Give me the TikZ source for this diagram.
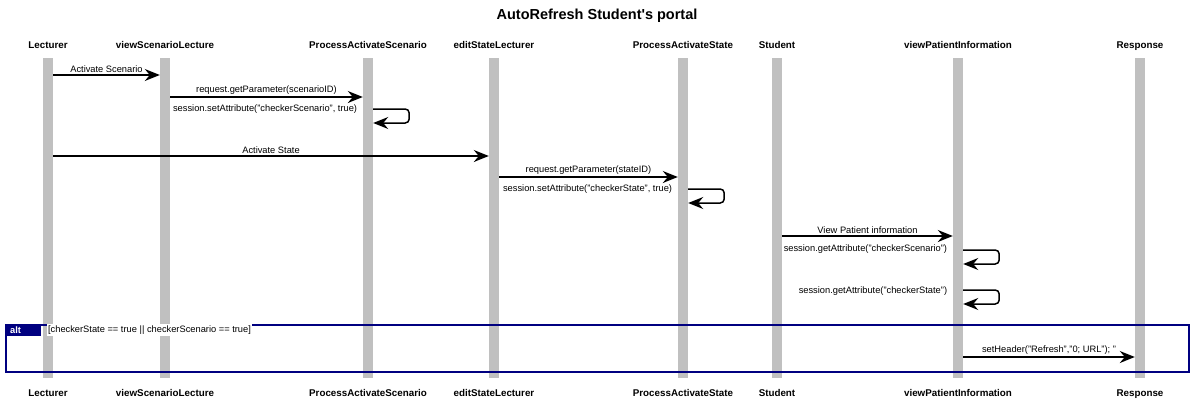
\documentclass[tikz,border=0pt]{standalone}
\usepackage{fontspec}
\setmainfont{Liberation Sans}
\usepackage{xcolor}
\usetikzlibrary{arrows.meta}

\definecolor{lifegray}{HTML}{C0C0C0}
\definecolor{altblue}{HTML}{000080}

\begin{document}
\begin{tikzpicture}[x=1pt, y=-1pt,
    lifeline/.style = {fill=lifegray, minimum width=10pt,
      minimum height=320pt, inner sep=0pt},
    actor/.style = {anchor=base, inner sep=0pt,
      font=\fontsize{9.8}{11}\selectfont\bfseries},
    msg/.style = {line width=1.5pt,
      -{Stealth[length=15pt, width=12pt, inset=5pt]}},
    selfmsg/.style = {msg, rounded corners=4pt},
    lbl/.style = {inner sep=1.5pt, font=\fontsize{9.3}{11}\selectfont},
    altframe/.style = {draw=altblue, line width=2pt, inner sep=0pt},
    alttab/.style = {fill=altblue, text=white, inner xsep=5pt, inner ysep=0pt,
      text width=26pt, minimum height=12pt, font=\fontsize{9.3}{11}\selectfont\bfseries}]
    \useasboundingbox (0,0) rectangle (1194,407);

    \node[anchor=base, font=\fontsize{14.5}{17}\selectfont\bfseries] (title)
      at (597,19) {AutoRefresh Student\textquotesingle s portal};

    % lifelines
    \node[lifeline] (lec) at (48,218) {};
    \node[lifeline] (vsl) at (165,218) {};
    \node[lifeline] (pas) at (368,218) {};
    \node[lifeline] (esl) at (494,218) {};
    \node[lifeline] (pst) at (683,218) {};
    \node[lifeline] (stu) at (777,218) {};
    \node[lifeline] (vpi) at (958,218) {};
    \node[lifeline] (res) at (1140,218) {};

    \node[actor] (lecTop) at (48,48) {Lecturer};
    \node[actor] (vslTop) at (165,48) {viewScenarioLecture};
    \node[actor] (pasTop) at (368,48) {ProcessActivateScenario};
    \node[actor] (eslTop) at (494,48) {editStateLecturer};
    \node[actor] (pstTop) at (683,48) {ProcessActivateState};
    \node[actor] (stuTop) at (777,48) {Student};
    \node[actor] (vpiTop) at (958,48) {viewPatientInformation};
    \node[actor] (resTop) at (1140,48) {Response};

    \node[actor] (lecBot) at (48,396) {Lecturer};
    \node[actor] (vslBot) at (165,396) {viewScenarioLecture};
    \node[actor] (pasBot) at (368,396) {ProcessActivateScenario};
    \node[actor] (eslBot) at (494,396) {editStateLecturer};
    \node[actor] (pstBot) at (683,396) {ProcessActivateState};
    \node[actor] (stuBot) at (777,396) {Student};
    \node[actor] (vpiBot) at (958,396) {viewPatientInformation};
    \node[actor] (resBot) at (1140,396) {Response};

    % messages
    \draw[msg] (lec.east |- 0,75) -- node[lbl, above] {Activate Scenario} (vsl.west |- 0,75);
    \draw[msg] (vsl.east |- 0,97) -- node[lbl, above] {request.getParameter(scenarioID)} (pas.west |- 0,97);
    \draw[selfmsg] (pas.east |- 0,109) -- ++(36,0) -- ++(0,14) -- (pas.east |- 0,123);
    \node[lbl, anchor=east] at ([xshift=-4pt]pas.west |- 0,109) {session.setAttribute("checkerScenario", true)};

    \draw[msg] (lec.east |- 0,156) -- node[lbl, above] {Activate State} (esl.west |- 0,156);
    \draw[msg] (esl.east |- 0,177) -- node[lbl, above] {request.getParameter(stateID)} (pst.west |- 0,177);
    \draw[selfmsg] (pst.east |- 0,189) -- ++(36,0) -- ++(0,14) -- (pst.east |- 0,203);
    \node[lbl, anchor=east] at ([xshift=-4pt]pst.west |- 0,189) {session.setAttribute("checkerState", true)};

    \draw[msg] (stu.east |- 0,236) -- node[lbl, above] {View Patient information} (vpi.west |- 0,236);
    \draw[selfmsg] (vpi.east |- 0,250) -- ++(36,0) -- ++(0,14) -- (vpi.east |- 0,264);
    \node[lbl, anchor=east] at ([xshift=-4pt]vpi.west |- 0,249) {session.getAttribute("checkerScenario")};
    \draw[selfmsg] (vpi.east |- 0,290) -- ++(36,0) -- ++(0,14) -- (vpi.east |- 0,304);
    \node[lbl, anchor=east] at ([xshift=-4pt]vpi.west |- 0,291) {session.getAttribute("checkerState")};

    % alt fragment
    \node[altframe, anchor=north west, minimum width=1183pt, minimum height=47pt] (alt) at (5,324) {};
    \node[alttab, anchor=north west] (tab) at (alt.north west) {alt};
    \node[lbl, anchor=west, fill=white] (guard) at ([xshift=5pt]tab.east) {[checkerState == true || checkerScenario == true]};
    \draw[msg] (vpi.east |- 0,357) -- node[lbl, above] {setHeader("Refresh","0; URL"); "} (res.west |- 0,357);
  \end{tikzpicture}
\end{document}
